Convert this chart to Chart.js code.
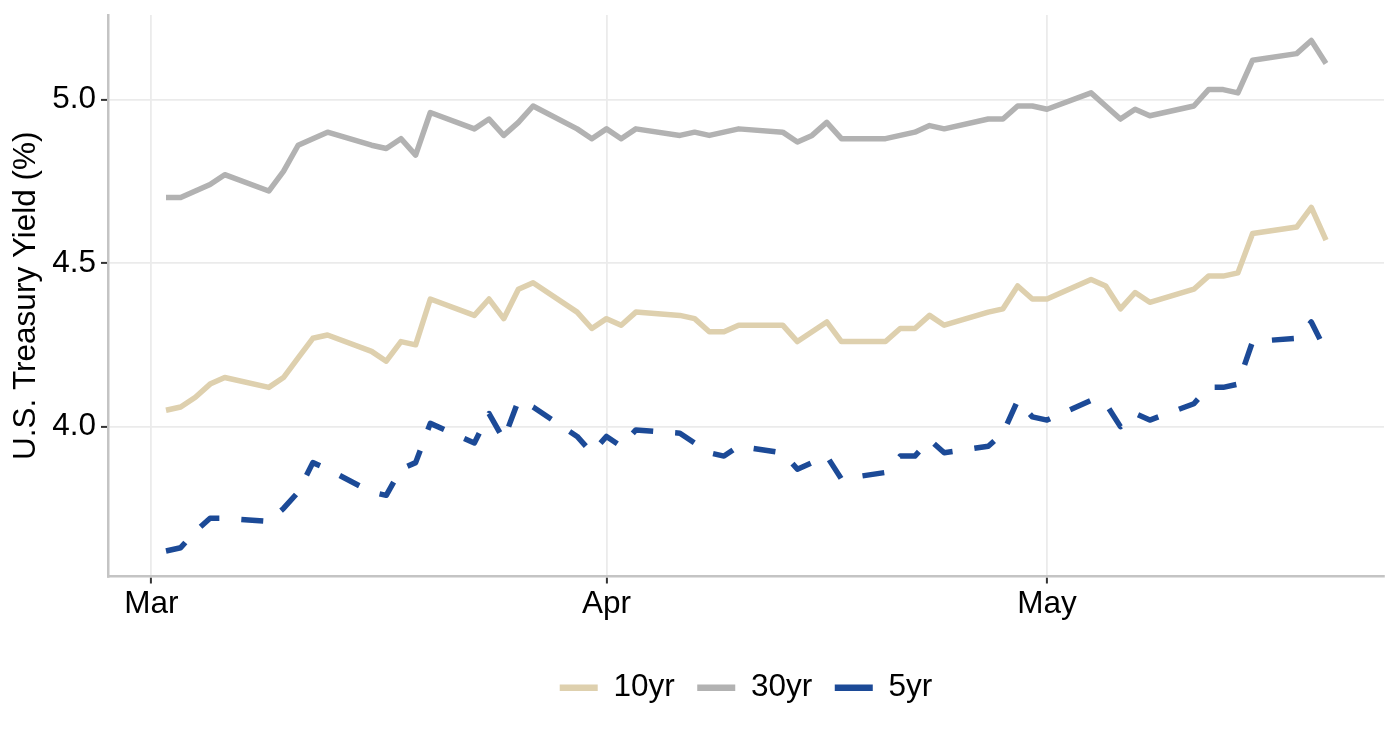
<!DOCTYPE html>
<html>
<head>
<meta charset="utf-8">
<script src="https://cdn.jsdelivr.net/npm/chart.js@4.4.1/dist/chart.umd.min.js"></script>
<style>
  html, body { margin: 0; padding: 0; background: #fff; }
  #wrap { width: 1400px; height: 740px; }
</style>
</head>
<body>
<div id="wrap"><canvas id="yields" width="1400" height="740"></canvas></div>
<script>
// trading days, Mar 2 - May 20
const tradeDates = [
  '2026-03-02', '2026-03-03', '2026-03-04', '2026-03-05', '2026-03-06',
  '2026-03-09', '2026-03-10', '2026-03-11', '2026-03-12', '2026-03-13',
  '2026-03-16', '2026-03-17', '2026-03-18', '2026-03-19', '2026-03-20',
  '2026-03-23', '2026-03-24', '2026-03-25', '2026-03-26', '2026-03-27',
  '2026-03-30', '2026-03-31', '2026-04-01', '2026-04-02', '2026-04-03',
  '2026-04-06', '2026-04-07', '2026-04-08', '2026-04-09', '2026-04-10',
  '2026-04-13', '2026-04-14', '2026-04-15', '2026-04-16', '2026-04-17',
  '2026-04-20', '2026-04-21', '2026-04-22', '2026-04-23', '2026-04-24',
  '2026-04-27', '2026-04-28', '2026-04-29', '2026-04-30', '2026-05-01',
  '2026-05-04', '2026-05-05', '2026-05-06', '2026-05-07', '2026-05-08',
  '2026-05-11', '2026-05-12', '2026-05-13', '2026-05-14', '2026-05-15',
  '2026-05-18', '2026-05-19', '2026-05-20'
]

const yield10 = [
  4.05, 4.06, 4.09, 4.13, 4.15,
  4.12, 4.15, 4.21, 4.27, 4.28,
  4.23, 4.20, 4.26, 4.25, 4.39,
  4.34, 4.39, 4.33, 4.42, 4.44,
  4.35, 4.30, 4.33, 4.31, 4.35,
  4.34, 4.33, 4.29, 4.29, 4.31,
  4.31, 4.26, 4.29, 4.32, 4.26,
  4.26, 4.30, 4.30, 4.34, 4.31,
  4.35, 4.36, 4.43, 4.39, 4.39,
  4.45, 4.43, 4.36, 4.41, 4.38,
  4.42, 4.46, 4.46, 4.47, 4.59,
  4.61, 4.67, 4.57
]

const yield30 = [
  4.70, 4.70, 4.72, 4.74, 4.77,
  4.72, 4.78, 4.86, 4.88, 4.90,
  4.86, 4.85, 4.88, 4.83, 4.96,
  4.91, 4.94, 4.89, 4.93, 4.98,
  4.91, 4.88, 4.91, 4.88, 4.91,
  4.89, 4.90, 4.89, 4.90, 4.91,
  4.90, 4.87, 4.89, 4.93, 4.88,
  4.88, 4.89, 4.90, 4.92, 4.91,
  4.94, 4.94, 4.98, 4.98, 4.97,
  5.02, 4.98, 4.94, 4.97, 4.95,
  4.98, 5.03, 5.03, 5.02, 5.12,
  5.14, 5.18, 5.11
]

const yield5 = [
  3.62, 3.63, 3.68, 3.72, 3.72,
  3.71, 3.75, 3.80, 3.89, 3.87,
  3.80, 3.79, 3.87, 3.89, 4.01,
  3.95, 4.04, 3.96, 4.08, 4.06,
  3.97, 3.92, 3.97, 3.94, 3.99,
  3.98, 3.95, 3.92, 3.91, 3.94,
  3.92, 3.87, 3.89, 3.91, 3.84,
  3.86, 3.91, 3.91, 3.96, 3.92,
  3.94, 3.98, 4.08, 4.03, 4.02,
  4.08, 4.07, 4.00, 4.04, 4.02,
  4.07, 4.12, 4.12, 4.13, 4.26,
  4.27, 4.32, 4.23
]

const monthStarts = ['2026-03-01', '2026-04-01', '2026-05-01']
const monthLabels = ['Mar', 'Apr', 'May']
const yTicks = [4.0, 4.5, 5.0]

// days counted from Mar 1
const dayOf = s => (Date.parse(s) - Date.parse('2026-03-01')) / 864e5
const toPoints = vals => vals.map((v, i) => ({ x: dayOf(tradeDates[i]), y: v }))

const font = { family: "'Liberation Sans', Arial, sans-serif", size: 31.5 }
const gridColor = '#EBEBEB'
const axisColor = '#C4C4C4'

const lineStyle = {
  borderWidth: 5.5,
  pointRadius: 0,
  tension: 0,
  borderCapStyle: 'butt',
  borderJoinStyle: 'round',
  fill: false
}

// keep the plot panel where the reference has it
const noEdgePadding = scale => {
  scale.paddingTop = 0
  scale.paddingBottom = 0
  scale.paddingLeft = 0
  scale.paddingRight = 0
}

new Chart(document.getElementById('yields'), {
  type: 'line',
  data: {
    datasets: [
      { label: '10yr', data: toPoints(yield10), borderColor: '#DED0AE', ...lineStyle },
      { label: '30yr', data: toPoints(yield30), borderColor: '#B2B2B2', ...lineStyle },
      { label: '5yr', data: toPoints(yield5), borderColor: '#1C4A97', borderDash: [22, 22], ...lineStyle }
    ]
  },
  options: {
    responsive: false,
    animation: false,
    layout: { padding: { top: 15, right: 16, bottom: 26.5, left: 0 } },
    scales: {
      x: {
        type: 'linear',
        min: -2.95,
        max: 83.95,
        afterBuildTicks: scale => { scale.ticks = monthStarts.map(d => ({ value: dayOf(d) })) },
        afterFit: scale => { scale.height = 73; noEdgePadding(scale) },
        ticks: {
          autoSkip: false,
          maxRotation: 0,
          padding: 2,
          color: '#000',
          font: font,
          callback: (value, index) => monthLabels[index]
        },
        grid: { color: gridColor, lineWidth: 1.8, tickColor: '#333', tickLength: 7, tickWidth: 2 },
        border: { color: axisColor, width: 2.5 }
      },
      y: {
        type: 'linear',
        min: 3.542,
        max: 5.258,
        afterBuildTicks: scale => { scale.ticks = yTicks.map(v => ({ value: v })) },
        afterFit: scale => { scale.width = 108; noEdgePadding(scale) },
        ticks: {
          padding: 5,
          color: '#000',
          font: font,
          callback: value => value.toFixed(1)
        },
        grid: { color: gridColor, lineWidth: 1.8, tickColor: '#333', tickLength: 7, tickWidth: 2 },
        border: { color: axisColor, width: 2.5 },
        title: {
          display: true,
          text: 'U.S. Treasury Yield (%)',
          color: '#000',
          font: font,
          padding: { top: 7, bottom: 0 }
        }
      }
    },
    plugins: {
      tooltip: { enabled: false },
      legend: {
        position: 'bottom',
        fullSize: false,
        labels: {
          usePointStyle: true,
          pointStyle: 'line',
          pointStyleWidth: 38,
          padding: 22.5,
          color: '#000',
          font: font,
          generateLabels: chart => Chart.defaults.plugins.legend.labels.generateLabels(chart)
            .map(item => Object.assign(item, { lineWidth: 6.5, pointStyle: 'line' }))
        }
      }
    }
  }
})
</script>
</body>
</html>
